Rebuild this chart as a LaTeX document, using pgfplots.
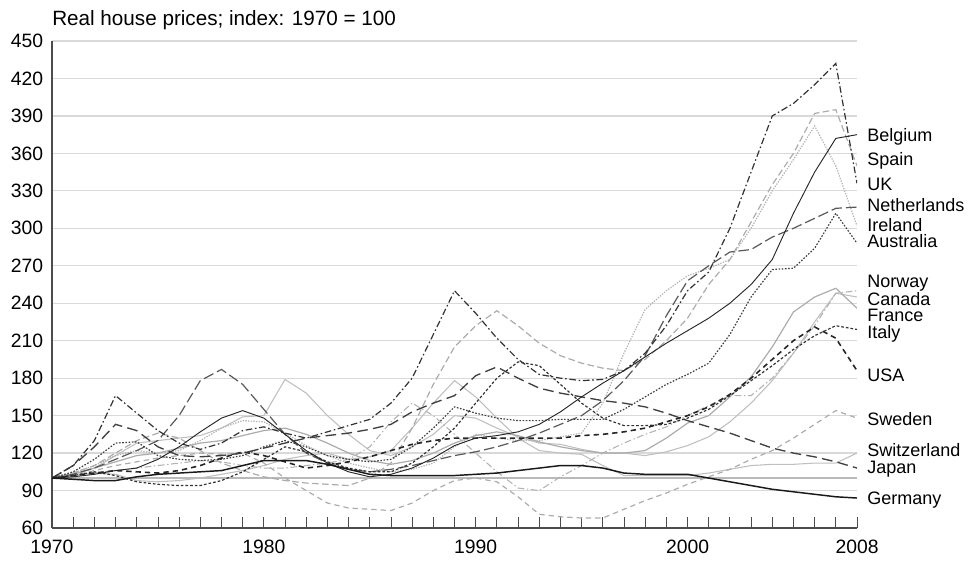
\documentclass[border=0pt]{standalone}
\usepackage{pgfplots}
\pgfplotsset{compat=1.18}
\usepackage{pgfplotstable}
\usepackage{fontspec}
\setmainfont{Liberation Sans}

\pgfplotstableread{
year BE ES UK NL IE AU NO CA FR IT US SE CH JP DE
1970 100 100 100 100 100 100 100 100 100 100 100 100 100 100 100
1971 101 104 110 103 104 105 102 103 103 102 102 102 102 110 99
1972 103 110 130 108 110 115 104 108 108 105 104 106 104 125 98
1973 106 120 166 115 118 128 106 118 113 102 106 110 103 143 98
1974 108 130 152 122 122 129 108 128 118 97 105 113 98 138 101
1975 115 136 138 130 120 118 110 130 120 95 104 116 97 125 103
1976 125 132 128 150 122 115 112 132 124 94 106 118 98 118 104
1977 137 122 123 178 130 114 114 134 128 94 110 120 100 117 105
1978 148 112 128 187 140 115 113 140 130 98 116 119 103 118 106
1979 154 106 138 175 146 118 110 149 134 105 121 120 106 120 110
1980 148 101 141 155 145 125 108 150 138 115 118 112 110 124 114
1981 135 98 136 135 136 130 108 179 140 125 113 100 115 128 114
1982 122 96 132 120 126 125 110 168 135 121 108 90 118 132 114
1983 112 95 137 112 118 118 112 150 128 113 110 80 120 134 111
1984 105 94 142 107 112 115 115 135 120 108 113 76 115 136 107
1985 101 100 147 105 108 113 125 122 114 105 117 75 117 139 103
1986 103 112 160 107 105 115 145 118 111 105 122 74 122 143 102
1987 108 140 180 110 107 125 160 125 114 112 127 80 140 153 102
1988 116 175 215 114 112 140 150 135 120 125 130 90 160 160 102
1989 126 205 250 118 125 157 135 150 128 140 132 98 178 166 102
1990 132 222 232 121 135 152 120 148 134 160 132 100 165 182 103
1991 134 234 212 125 132 148 105 140 137 180 132 97 148 189 104
1992 137 222 195 130 130 146 92 133 134 193 132 85 132 180 106
1993 143 208 183 136 130 146 90 128 129 190 132 71 122 172 108
1994 153 198 180 143 133 147 101 127 125 175 132 69 120 168 110
1995 165 192 178 150 136 147 110 123 122 160 134 68 119 165 110
1996 176 188 179 162 160 147 120 120 120 148 135 68 110 162 108
1997 186 186 186 178 200 155 128 120 120 142 137 75 102 160 104
1998 197 195 200 198 235 165 135 118 122 142 140 82 102 157 103
1999 208 210 222 230 250 175 141 121 132 143 145 88 102 152 103
2000 218 228 250 258 262 183 150 126 144 148 150 95 102 146 103
2001 228 255 265 270 268 192 158 133 150 155 157 101 104 141 100
2002 240 275 300 281 275 215 166 145 165 166 167 107 107 136 97
2003 255 305 345 283 300 245 166 160 181 178 180 115 110 130 94
2004 275 335 390 293 330 267 180 178 205 190 195 122 111 124 91
2005 312 360 400 300 355 268 200 200 233 203 210 132 111 120 89
2006 345 392 415 308 382 284 222 225 245 214 221 143 112 117 87
2007 372 395 432 316 350 312 248 248 252 222 212 154 112 113 85
2008 375 350 336 317 302 288 250 245 236 219 186 148 120 108 84
}\prices

\begin{document}
\begin{tikzpicture}
\path[use as bounding box] (-39pt,-27pt) rectangle (687.75pt,396pt);
\begin{axis}[
    scale only axis,
    width=603.75pt, height=365.25pt,
    xmin=1970, xmax=2008, ymin=60, ymax=450,
    clip mode=individual,
    axis x line=bottom, axis y line=left,
    axis line style={-, black!70, line width=0.8pt},
    xtick={1970,1980,1990,2000,2008},
    minor xtick={1971,...,2007},
    ytick={60,90,...,450},
    tick align=inside,
    major tick length=8pt, minor tick length=8pt,
    xtick style={black!70, line width=0.6pt},
    ytick style={draw=none},
    ymajorgrids, grid style={gray!30, line width=0.9pt},
    /pgf/number format/1000 sep={},
    /pgf/number format/assume math mode=true,
    ticklabel style={font=\fontsize{14.5}{16}\selectfont},
    xticklabel style={anchor=north, inner sep=0pt, yshift=-9pt},
    yticklabel style={anchor=east, inner sep=0pt, xshift=-6.5pt},
    every node/.append style={text=black!90},
]
\addplot[gray!55, line width=1.3pt] coordinates {(1970,100) (2008,100)};

\addplot[gray!50, line width=0.8pt] table[x=year, y=CH] {\prices};
\addplot[gray!50, line width=0.8pt] table[x=year, y=CA] {\prices};
\addplot[gray!65, line width=0.9pt] table[x=year, y=FR] {\prices};
\addplot[gray!60, line width=0.8pt, dash pattern=on 5pt off 2pt on 1pt off 2pt] table[x=year, y=NO] {\prices};
\addplot[gray!65, line width=0.9pt, dash pattern=on 4pt off 3pt] table[x=year, y=SE] {\prices};
\addplot[gray!60, line width=0.9pt, dash pattern=on 1pt off 1pt] table[x=year, y=IE] {\prices};
\addplot[gray!65, line width=0.9pt, dash pattern=on 5pt off 2.5pt] table[x=year, y=ES] {\prices};
\addplot[black!65, line width=0.9pt, dash pattern=on 8pt off 3pt] table[x=year, y=NL] {\prices};
\addplot[black!75, line width=0.9pt, dash pattern=on 1.2pt off 1.2pt] table[x=year, y=AU] {\prices};
\addplot[black!80, line width=0.9pt, dash pattern=on 2pt off 1.5pt] table[x=year, y=IT] {\prices};
\addplot[black!85, line width=1.2pt, dash pattern=on 4pt off 3pt] table[x=year, y=US] {\prices};
\addplot[black!75, line width=1pt, dash pattern=on 8pt off 4pt] table[x=year, y=JP] {\prices};
\addplot[black!80, line width=0.9pt, dash pattern=on 5pt off 2pt on 1.2pt off 2pt] table[x=year, y=UK] {\prices};
\addplot[black!85, line width=0.7pt] table[x=year, y=BE] {\prices};
\addplot[black!90, line width=1.1pt] table[x=year, y=DE] {\prices};

\begin{scope}[every node/.style={anchor=west, inner sep=0pt, xshift=7.5pt,
    text height=0.72em, text depth=0pt, font=\fontsize{13.5}{15}\selectfont, text=black}]
\node at (axis cs:2008,373) {Belgium};
\node at (axis cs:2008,354.4) {Spain};
\node at (axis cs:2008,334.4) {UK};
\node at (axis cs:2008,317) {Netherlands};
\node at (axis cs:2008,301) {Ireland};
\node at (axis cs:2008,288.2) {Australia};
\node at (axis cs:2008,256.6) {Norway};
\node at (axis cs:2008,242.4) {Canada};
\node at (axis cs:2008,229.6) {France};
\node at (axis cs:2008,215.8) {Italy};
\node at (axis cs:2008,181) {USA};
\node at (axis cs:2008,145.8) {Sweden};
\node at (axis cs:2008,121) {Switzerland};
\node at (axis cs:2008,107.8) {Japan};
\node at (axis cs:2008,82.4) {Germany};
\end{scope}

\node[anchor=base west, inner sep=0pt, yshift=12pt, font=\fontsize{15.5}{17}\selectfont, text=black]
  at (rel axis cs:0,1) {Real house prices; index: 1970 = 100};
\end{axis}
\end{tikzpicture}
\end{document}
